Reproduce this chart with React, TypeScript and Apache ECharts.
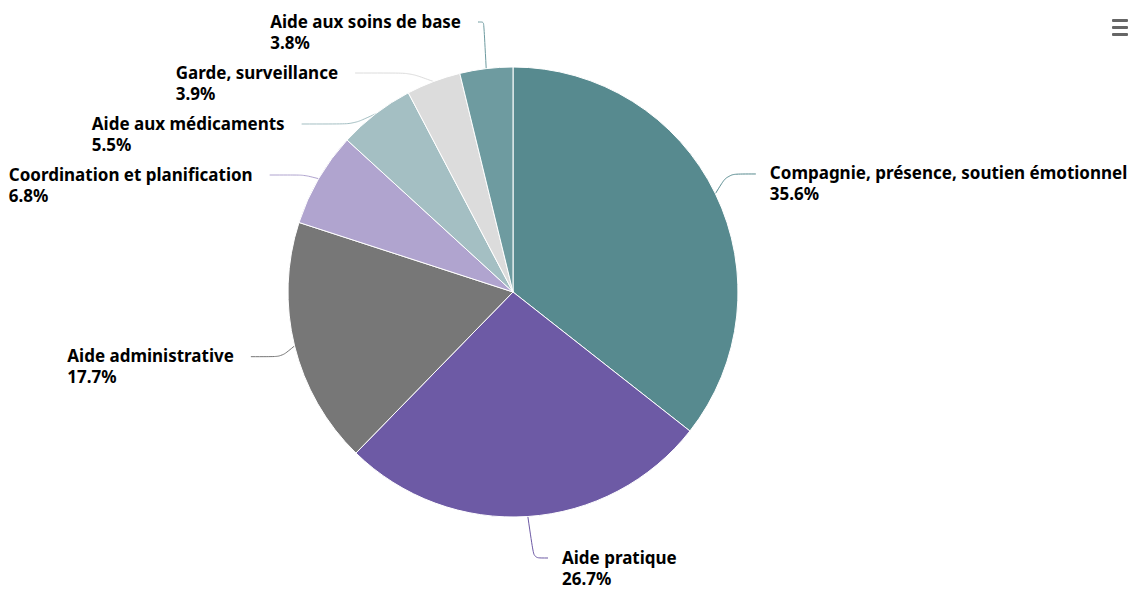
import { useEffect, useRef } from 'react';
import * as echarts from 'echarts';

const categories = [
  'Compagnie, présence, soutien émotionnel',
  'Aide pratique',
  'Aide administrative',
  'Coordination et planification',
  'Aide aux médicaments',
  'Garde, surveillance',
  'Aide aux soins de base',
];
const values = [35.6, 26.7, 17.7, 6.8, 5.5, 3.9, 3.8];
const colors = ['#578a8f', '#6d5aa5', '#777777', '#b0a4cf', '#a4bfc3', '#dcdcdc', '#6e9ba0'];

const CX = 513;
const CY = 292;
const R = 225;
const DIST = 45;
const SPACING = 51;
const TOP = 22;
const BOTTOM = 558;
const MIN_DX = 35;
const LINE_H = 21;
const FONT = 'Noto Sans';

type LabelPos = { isLeft: boolean; endX: number; endY: number; edge: number[] };

function computeLabelPositions(): LabelPos[] {
  const total = values.reduce((s, v) => s + v, 0);
  let acc = 0;
  const mids = values.map((v) => {
    const m = ((acc + v / 2) / total) * 2 * Math.PI;
    acc += v;
    return m;
  });
  const RL = R + DIST;
  const nat = mids.map((m) => CY - RL * Math.cos(m));
  const left = mids.map((m) => Math.sin(m) < 0);
  const ys = nat.slice();
  [true, false].forEach((side) => {
    const idx = values
      .map((_, i) => i)
      .filter((i) => left[i] === side)
      .sort((a, b) => nat[a] - nat[b]);
    const clusters = idx.map((i) => ({ items: [i], start: Math.max(nat[i], TOP) }));
    let merged = true;
    while (merged) {
      merged = false;
      for (let k = 0; k < clusters.length - 1; k++) {
        const a = clusters[k];
        const b = clusters[k + 1];
        if (a.start + a.items.length * SPACING > b.start) {
          const items = a.items.concat(b.items);
          const mean = items.reduce((s, i) => s + nat[i], 0) / items.length;
          const start = Math.max(mean - ((items.length - 1) * SPACING) / 2, TOP);
          clusters.splice(k, 2, { items, start });
          merged = true;
          break;
        }
      }
    }
    clusters.forEach((c) => c.items.forEach((i, j) => (ys[i] = c.start + j * SPACING)));
  });
  return mids.map((m, i) => {
    const dy = ys[i] - CY;
    const dx = Math.max(MIN_DX, Math.sqrt(Math.max(0, RL * RL - dy * dy)));
    const isLeft = left[i];
    return {
      isLeft,
      endX: CX + (isLeft ? -dx : dx),
      endY: Math.min(ys[i], BOTTOM),
      edge: [CX + R * Math.sin(m), CY - R * Math.cos(m)],
    };
  });
}

export default function App() {
  const ref = useRef<HTMLDivElement>(null);
  useEffect(() => {
    if (!ref.current) return;
    const chart = echarts.init(ref.current, null, { renderer: 'svg' });
    const L = computeLabelPositions();
    const textStyle = { fontFamily: FONT, fontWeight: 'bold', fontSize: 17, color: '#000000', align: 'left', lineHeight: LINE_H };
    chart.setOption({
      animation: false,
      backgroundColor: '#ffffff',
      graphic: [
        { type: 'rect', right: 0, top: 19, shape: { width: 16, height: 3, r: 1 }, style: { fill: '#666666' } },
        { type: 'rect', right: 0, top: 26, shape: { width: 16, height: 3, r: 1 }, style: { fill: '#666666' } },
        { type: 'rect', right: 0, top: 33, shape: { width: 16, height: 3, r: 1 }, style: { fill: '#666666' } },
      ],
      series: [
        {
          type: 'pie',
          center: [CX, CY],
          radius: [0, R],
          startAngle: 90,
          clockwise: true,
          avoidLabelOverlap: false,
          emphasis: { disabled: true },
          itemStyle: { borderColor: '#ffffff', borderWidth: 1 },
          data: categories.map((c, i) => ({ name: c, value: values[i], itemStyle: { color: colors[i] } })),
          label: {
            show: true,
            position: 'outside',
            formatter: (p: any) => `{n|${p.name}}\n{p|${p.value.toFixed(1)}%}`,
            rich: { n: textStyle, p: textStyle },
          },
          labelLine: { show: true, smooth: 0.25, length: 20, length2: 20, lineStyle: { width: 1 } },
          labelLayout: (params: any) => {
            const pos = L[params.dataIndex];
            const crookX = pos.endX + 0.7 * (pos.edge[0] - pos.endX);
            return {
              x: pos.isLeft ? pos.endX - 17 : pos.endX + 14,
              y: pos.endY - LINE_H / 2 - 1,
              align: pos.isLeft ? 'right' : 'left',
              verticalAlign: 'top',
              labelLinePoints: [pos.edge, [crookX, pos.endY], [pos.endX, pos.endY]],
            };
          },
        },
      ],
    });
    return () => chart.dispose();
  }, []);
  return <div ref={ref} style={{ position: 'absolute', left: 0, top: 0, width: 1128, height: 591 }} />;
}
